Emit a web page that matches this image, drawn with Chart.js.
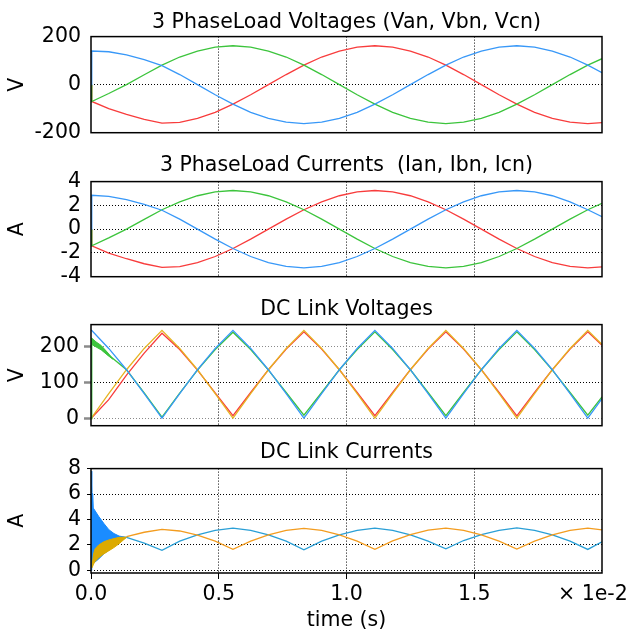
<!DOCTYPE html>
<html>
<head>
<meta charset="utf-8">
<script src="https://cdn.jsdelivr.net/npm/chart.js@4.4.1/dist/chart.umd.min.js"></script>
<style>
  html, body { margin: 0; padding: 0; background: #fff; }
  #wrap { position: relative; width: 628px; height: 635px; }
  #wrap canvas { position: absolute; left: 0; }
</style>
</head>
<body>
<div id="wrap">
  <canvas id="c1" width="628" height="155" style="top:0px"></canvas>
  <canvas id="c2" width="628" height="154" style="top:145px"></canvas>
  <canvas id="c3" width="628" height="154" style="top:289px"></canvas>
  <canvas id="c4" width="628" height="203" style="top:432px"></canvas>
</div>
<script>
// Sample times (s)
const t = [0, 0.00003, 0.000694, 0.001389, 0.002083, 0.002778, 0.003472, 0.004167, 0.004861, 0.005556,
  0.00625, 0.006944, 0.007639, 0.008333, 0.009028, 0.009722, 0.010417, 0.011111, 0.011806, 0.0125,
  0.013194, 0.013889, 0.014583, 0.015278, 0.015972, 0.016667, 0.017361, 0.018056, 0.01875, 0.019444, 0.02];

// 3 phase load voltages (V)
const van = [0, 140, 137, 124, 104, 79, 42, 0, -42, -81, -115, -140, -156, -162, -156, -140, -115, -81, -42, 0,
  42, 81, 115, 140, 156, 162, 156, 140, 115, 81, 50];
const vbn = [0, -70, -37, 0, 41, 81, 115, 140, 156, 162, 156, 140, 115, 81, 42, 0, -42, -81, -115, -140,
  -156, -162, -156, -140, -115, -81, -42, 0, 42, 81, 108];
const vcn = [0, -70, -100, -124, -145, -160, -157, -140, -115, -81, -42, 0, 42, 81, 115, 140, 156, 162, 156, 140,
  115, 81, 42, 0, -42, -81, -115, -140, -156, -162, -158];

// 3 phase load currents (A)
const ian = [0, 2.85, 2.75, 2.49, 2.09, 1.59, 0.84, 0, -0.84, -1.63, -2.30, -2.81, -3.14, -3.25, -3.14, -2.81,
  -2.30, -1.63, -0.84, 0, 0.84, 1.63, 2.30, 2.81, 3.14, 3.25, 3.14, 2.81, 2.30, 1.63, 1.05];
const ibn = [0, -1.40, -0.74, 0, 0.82, 1.63, 2.30, 2.81, 3.14, 3.25, 3.14, 2.81, 2.30, 1.63, 0.84, 0,
  -0.84, -1.63, -2.30, -2.81, -3.14, -3.25, -3.14, -2.81, -2.30, -1.63, -0.84, 0, 0.84, 1.63, 2.17];
const icn = [0, -1.40, -2.01, -2.49, -2.91, -3.21, -3.15, -2.81, -2.30, -1.63, -0.84, 0, 0.84, 1.63, 2.30, 2.81,
  3.14, 3.25, 3.14, 2.81, 2.30, 1.63, 0.84, 0, -0.84, -1.63, -2.30, -2.81, -3.14, -3.25, -3.18];

// DC link voltages (V)
const vdc1 = [245, 244, 194, 135, 69, 1, 69, 135, 194, 244, 194, 135, 69, 1, 69, 135, 194, 244, 194, 135,
  69, 1, 69, 135, 194, 244, 194, 135, 69, 1, 55];
const vdc2 = [0, 221, 176, 135, 71, 4, 70, 134, 191, 239, 191, 134, 72, 9, 72, 135, 191, 240, 191, 135,
  72, 8, 72, 135, 191, 240, 191, 134, 72, 9, 60];
const vdc3 = [0, 0, 52, 120, 181, 236, 191, 134, 71, 8, 72, 135, 192, 240, 192, 135, 72, 8, 72, 135,
  192, 240, 192, 135, 72, 7, 72, 135, 192, 240, 203];
const vdc4 = [0, 3, 69, 135, 194, 244, 194, 135, 69, 1, 69, 135, 194, 244, 194, 135, 69, 1, 69, 135,
  194, 244, 194, 135, 69, 1, 69, 135, 194, 244, 205];
// start-up ripple on vdc2
const tRipple = [0.00003, 0.0002, 0.0004, 0.00067, 0.00086];
const vdc2Hi = [222, 212, 202, 181, 164];
const vdc2Lo = [205, 198, 190, 174, 164];

// DC link currents (A)
const idc1 = [null, null, null, 2.6, 2.15, 1.58, 2.3, 2.8, 3.15, 3.32, 3.15, 2.8, 2.3, 1.62, 2.3, 2.8, 3.15, 3.32,
  3.15, 2.8, 2.3, 1.7, 2.35, 2.82, 3.15, 3.34, 3.15, 2.8, 2.3, 1.65, 2.25];
const idc2 = [null, null, null, 2.65, 3.0, 3.22, 3.1, 2.78, 2.3, 1.66, 2.3, 2.8, 3.15, 3.3, 3.15, 2.8, 2.3, 1.66,
  2.32, 2.82, 3.16, 3.32, 3.15, 2.8, 2.3, 1.68, 2.3, 2.8, 3.15, 3.32, 3.18];
// start-up switching ripple envelopes
const tIdc1Band = [0, 0.00003, 0.00007, 0.00009, 0.0003, 0.0005, 0.0007, 0.0009, 0.0011, 0.00139];
const idc1Hi = [7.8, 6.1, 6.0, 4.9, 4.25, 3.7, 3.2, 2.9, 2.7, 2.6];
const idc1Lo = [0, 0.3, 0.45, 0.55, 0.9, 1.3, 1.6, 1.95, 2.3, 2.6];
const tIdc2Band = [0.00004, 0.0001, 0.00016, 0.0003, 0.0005, 0.0007, 0.0009, 0.0011, 0.00139];
const idc2Hi = [0.3, 1.3, 1.7, 2.0, 2.25, 2.4, 2.5, 2.6, 2.62];
const idc2Lo = [0.2, 0.5, 0.7, 1.0, 1.3, 1.55, 1.8, 2.1, 2.6];

// Axis ticks
const xTickStep = 0.005;
const yTicks1 = [-200, 200, 200];   // min, max, step
const yTicks2 = [-4, 4, 2];
const yTicks3 = [-20, 260, 100];
const yTicks4 = [-0.2, 8, 2];

const BLUE = '#3898f8', GREEN = '#3cc43c', RED = '#f83c3c', YELLOW = '#e6b422';
const FS = 20.5;

Chart.defaults.font.family = '"DejaVu Sans", Verdana, sans-serif';
Chart.defaults.font.size = FS;
Chart.defaults.color = '#000';

function line(xs, ys, color, extra) {
  return Object.assign({
    data: xs.map((x, i) => ({ x: x, y: ys[i] })),
    borderColor: color, backgroundColor: color, borderWidth: 1.3,
    pointRadius: 0, fill: false, tension: 0
  }, extra || {});
}

// black box round the plot area
const framePlugin = {
  id: 'frame',
  afterDraw(chart) {
    const { ctx, chartArea: a } = chart;
    ctx.save();
    ctx.strokeStyle = '#000';
    ctx.lineWidth = 1.5;
    ctx.strokeRect(a.left, a.top, a.right - a.left, a.bottom - a.top);
    ctx.restore();
  }
};

// "× 1e-2" multiplier next to the time ticks
const unitPlugin = {
  id: 'xunit',
  afterDraw(chart) {
    const ctx = chart.ctx;
    ctx.save();
    ctx.font = FS + 'px "DejaVu Sans"';
    ctx.fillStyle = '#000';
    ctx.textBaseline = 'middle';
    ctx.fillText('\u00d7 1e-2', 558, chart.chartArea.bottom + 22);
    ctx.restore();
  }
};

function panelOptions(p) {
  const [yMin, yMax, yStep] = p.y;
  return {
    responsive: false,
    animation: false,
    devicePixelRatio: 1,
    layout: { padding: { left: 0, right: 26, top: 0, bottom: 0 } },
    plugins: {
      legend: { display: false },
      tooltip: { enabled: false },
      title: {
        display: true, text: p.title, fullSize: false, color: '#000',
        font: { size: FS, weight: 'normal' },
        padding: { top: p.titleTop, bottom: p.titleBottom }
      }
    },
    scales: {
      x: {
        type: 'linear', min: 0, max: 0.02,
        afterFit: s => { s.height = p.xHeight; },
        ticks: {
          display: !!p.xLabels, stepSize: xTickStep, padding: 3, autoSkip: false, maxRotation: 0,
          callback: v => v > 0.0199 ? '' : (v * 100).toFixed(1)
        },
        grid: {
          color: c => (c.tick && c.tick.value > 0.0001 && c.tick.value < 0.0199) ? '#000' : 'rgba(0,0,0,0)',
          lineWidth: 1,
          drawTicks: !!p.xLabels, tickLength: 6, tickWidth: 1,
          tickColor: c => (c.tick && c.tick.value < 0.0199) ? '#000' : 'rgba(0,0,0,0)'
        },
        border: { display: false, dash: [1, 2] },
        title: { display: !!p.xLabels, text: 'time (s)', color: '#000', padding: { top: 0, bottom: 2 } }
      },
      y: {
        min: yMin, max: yMax,
        afterFit: s => { s.width = 91; },
        ticks: { stepSize: yStep, includeBounds: false, padding: p.yPad, autoSkip: false },
        grid: {
          color: c => {
            const v = c.tick ? c.tick.value : yMin;
            if (v <= yMin + 1e-9 || v >= yMax - 1e-9) return 'rgba(0,0,0,0)';
            return p.gridColor ? p.gridColor(v) : '#000';
          },
          lineWidth: 1,
          drawTicks: !!p.yTickLen, tickLength: p.yTickLen || 0,
          tickColor: p.yTickColor || '#000', tickWidth: p.yTickWidth || 1
        },
        border: { display: false, dash: [1, 2] },
        title: { display: true, text: p.yTitle, color: '#000', padding: { top: 5 } }
      }
    }
  };
}

// Panel 1: load voltages
new Chart(document.getElementById('c1'), {
  type: 'line',
  data: { datasets: [
    line(t, van, BLUE),
    line(t, vbn, GREEN),
    line(t, vcn, RED)
  ] },
  options: panelOptions({ title: '3 PhaseLoad Voltages (Van, Vbn, Vcn)', titleTop: 10, titleBottom: 2,
    xHeight: 14, y: yTicks1, yPad: 10, yTitle: 'V' }),
  plugins: [framePlugin]
});

// Panel 2: load currents
new Chart(document.getElementById('c2'), {
  type: 'line',
  data: { datasets: [
    line(t, ian, BLUE),
    line(t, ibn, GREEN),
    line(t, icn, RED)
  ] },
  options: panelOptions({ title: '3 PhaseLoad Currents  (Ian, Ibn, Icn)', titleTop: 8.5, titleBottom: 3.5,
    xHeight: 14, y: yTicks2, yPad: 10, yTitle: 'A' }),
  plugins: [framePlugin]
});

// Panel 3: DC link voltages
new Chart(document.getElementById('c3'), {
  type: 'line',
  data: { datasets: [
    line(t, vdc1, BLUE),
    line(tRipple, vdc2Hi, GREEN, { fill: '+1', borderWidth: 1 }),
    line(tRipple, vdc2Lo, GREEN, { borderWidth: 1 }),
    line(t, vdc2, GREEN),
    line(t, vdc4, YELLOW),
    line(t, vdc3, RED)
  ] },
  options: panelOptions({ title: 'DC Link Voltages', titleTop: 8, titleBottom: 3,
    xHeight: 14, y: yTicks3, yPad: 5, yTickLen: 7, yTickColor: '#8a8a8a', yTickWidth: 2.5,
    gridColor: v => (Math.abs(v - 100) < 1 ? '#000' : '#8a8a8a'), yTitle: 'V' }),
  plugins: [framePlugin]
});

// Panel 4: DC link currents
new Chart(document.getElementById('c4'), {
  type: 'line',
  data: { datasets: [
    line(tIdc2Band, idc2Hi, '#dcaa00', { fill: '+1', borderWidth: 1 }),
    line(tIdc2Band, idc2Lo, '#dcaa00', { borderWidth: 1 }),
    line(tIdc1Band, idc1Hi, '#1a8cff', { fill: '+1', borderWidth: 1 }),
    line(tIdc1Band, idc1Lo, '#1a8cff', { borderWidth: 1 }),
    line(t, idc2, '#f39c1f'),
    line(t, idc1, '#2a9fd6')
  ] },
  options: panelOptions({ title: 'DC Link Currents', titleTop: 8.5, titleBottom: 3.5,
    xHeight: 62, xLabels: true, y: yTicks4, yPad: 6, yTickLen: 4, yTitle: 'A' }),
  plugins: [framePlugin, unitPlugin]
});
</script>
</body>
</html>
